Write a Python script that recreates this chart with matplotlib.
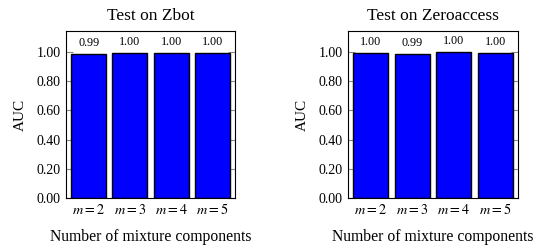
import matplotlib
matplotlib.use("Agg")
import matplotlib.pyplot as plt
import numpy as np

plt.rcParams['font.family'] = ['Liberation Serif', 'DejaVu Serif']
plt.rcParams['mathtext.fontset'] = 'stix'

categories = ['$m=2$', '$m=3$', '$m=4$', '$m=5$']
zbot_auc = [0.985, 0.995, 0.995, 0.995]
zbot_labels = ['0.99', '1.00', '1.00', '1.00']
zero_auc = [0.995, 0.99, 0.999, 0.995]
zero_labels = ['1.00', '0.99', '1.00', '1.00']
titles = ['Test on Zbot', 'Test on Zeroaccess']
yticks = [0.0, 0.2, 0.4, 0.6, 0.8, 1.0]

fig = plt.figure(figsize=(5.35, 2.47), dpi=100)
ax1 = fig.add_axes([0.1234, 0.1984, 0.316, 0.676])
ax2 = fig.add_axes([0.6505, 0.1984, 0.318, 0.676])

for ax, vals, labs, title in [(ax1, zbot_auc, zbot_labels, titles[0]),
                              (ax2, zero_auc, zero_labels, titles[1])]:
    x = np.arange(len(categories))
    ax.set_axisbelow(True)
    ax.bar(x, vals, width=0.85, color='#0000ff', edgecolor='black', linewidth=1.0, zorder=2)
    for xi, v, l in zip(x, vals, labs):
        ax.text(xi, v + 0.035, l, ha='center', va='bottom', fontsize=8.7)
    ax.set_xlim(-0.55, 3.55)
    ax.set_ylim(0, 1.145)
    ax.set_yticks(yticks)
    ax.set_yticklabels([f'{t:.2f}' for t in yticks], fontsize=10)
    ax.set_xticks(x)
    ax.set_xticklabels(categories, fontsize=10.3)
    for lbl in ax.get_xticklabels():
        lbl.set_verticalalignment('baseline')
    ax.tick_params(axis='x', length=0, pad=11.5)
    ax.tick_params(axis='y', direction='in', length=5, color='#888888', right=True, pad=4)
    ax.set_ylabel('AUC', fontsize=11, labelpad=7)
    ax.set_xlabel('Number of mixture components', fontsize=11.3, labelpad=9)
    ax.set_title(title, fontsize=12.5, pad=8)
    for s in ax.spines.values():
        s.set_linewidth(0.8)
        s.set_zorder(3)

fig.savefig('out.png', dpi=100)
